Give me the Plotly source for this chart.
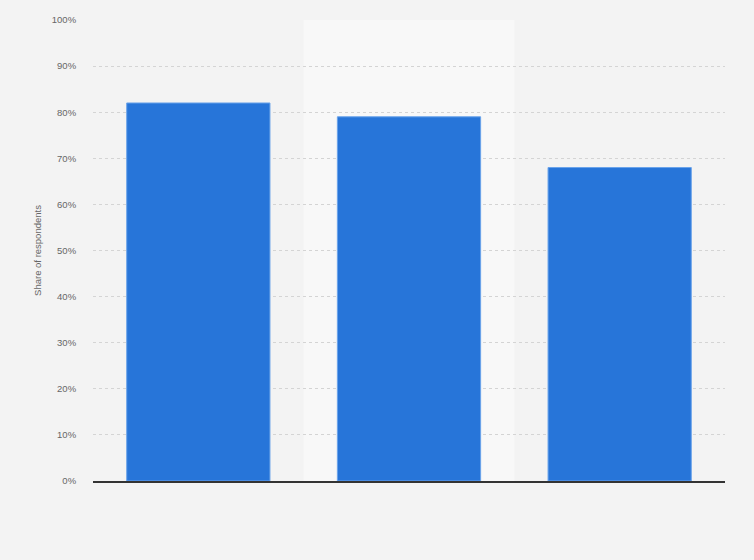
"""
Share of respondents - bar chart
================================
Three bars on a light grey background, middle category highlighted.
"""

import plotly.graph_objects as go


# Category labels are not shown on the chart itself
categories = ["Category 1", "Category 2", "Category 3"]
share_values = [82, 79, 68]

y_tick_values = [0, 10, 20, 30, 40, 50, 60, 70, 80, 90, 100]
y_tick_labels = ["0%", "10%", "20%", "30%", "40%", "50%", "60%", "70%", "80%", "90%", "100%"]

BAR_COLOR = "#2775d9"
PAPER_BG = "#f3f3f3"


def create_bar_chart() -> go.Figure:
    positions = list(range(len(categories)))

    fig = go.Figure(data=[
        go.Bar(
            x=positions,
            y=share_values,
            customdata=categories,
            marker=dict(color=BAR_COLOR, line=dict(color="#6aa3ea", width=1)),
            hovertemplate="%{customdata}: %{y}%<extra></extra>",
        )
    ])

    # lighter band behind the middle category
    fig.add_shape(
        type="rect", xref="x", yref="paper",
        x0=0.5, x1=1.5, y0=0, y1=1,
        fillcolor="#f8f8f8", line_width=0, layer="below",
    )

    fig.update_layout(
        width=754,
        height=560,
        margin=dict(l=93, r=29, t=20, b=79),
        paper_bgcolor=PAPER_BG,
        plot_bgcolor=PAPER_BG,
        bargap=0.32,
        showlegend=False,
        font=dict(family="Liberation Sans, Arial, sans-serif", size=9.5, color="#666666"),
        xaxis=dict(
            range=[-0.5, 2.5],
            showticklabels=False,
            showgrid=False,
            zeroline=False,
            showline=True,
            linecolor="#333333",
            linewidth=1.5,
            ticks="",
            fixedrange=True,
        ),
        yaxis=dict(
            range=[0, 100],
            tickvals=y_tick_values,
            ticktext=y_tick_labels,
            showgrid=True,
            gridcolor="#d4d4d4",
            griddash="dot",
            gridwidth=1,
            zeroline=False,
            # invisible ticks push the labels away from the plot area
            ticks="outside",
            ticklen=14,
            tickcolor="rgba(0,0,0,0)",
            title=dict(text="Share of respondents", font=dict(size=9.5, color="#666666"), standoff=8),
            fixedrange=True,
        ),
    )
    return fig


if __name__ == "__main__":
    fig = create_bar_chart()
    # drop the default page margin so the figure fills the window
    fig.write_html(
        "out.html",
        config={"displayModeBar": False},
        post_script="document.body.style.margin='0';",
    )
